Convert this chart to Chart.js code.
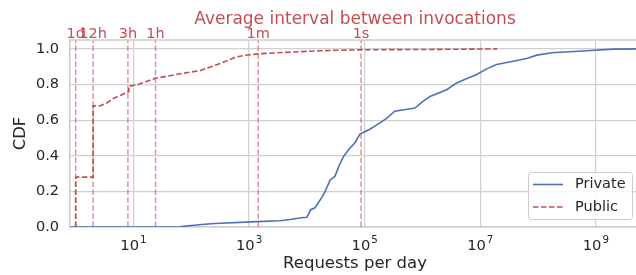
<!DOCTYPE html>
<html lang="en">
<head>
<meta charset="UTF-8">
<title>CDF of requests per day</title>
<style>
    html, body {
        margin: 0;
        padding: 0;
        background: #fff;
        overflow: hidden;
    }
    .wrap {
        width: 640px;
        height: 275px;
    }
</style>
</head>
<body>
<div class="wrap"><canvas id="cdf" width="640" height="275"></canvas></div>
<script src="https://cdn.jsdelivr.net/npm/chart.js"></script>
<script>
// values (requests per day -> cumulative share)
const privateRate = [0.8, 68, 68, 151, 257, 1350, 3390, 5130, 8130, 10000, 11640, 13800, 18000, 20560,
    25100, 30600, 36300, 42700, 52000, 67900, 82800, 100000, 123000, 162000, 240000, 331000, 741000,
    1.02e6, 1.35e6, 2.63e6, 3.89e6, 5.75e6, 8.71e6, 1.29e7, 1.91e7, 3.72e7, 6.31e7, 9.55e7,
    1.74e8, 6.92e8, 2.0e9, 5.8e9];
const privateCdf = [0, 0, 0.003, 0.014, 0.02, 0.03, 0.035, 0.042, 0.052, 0.055, 0.097, 0.108, 0.165, 0.197,
    0.263, 0.285, 0.347, 0.394, 0.432, 0.473, 0.522, 0.535, 0.549, 0.573, 0.61, 0.65, 0.668,
    0.705, 0.733, 0.771, 0.809, 0.833, 0.856, 0.888, 0.912, 0.931, 0.946, 0.965,
    0.978, 0.99, 0.999, 1.0];

const publicRate = [1, 1, 2, 2, 2.6, 3.4, 4.5, 6.3, 8.3, 8.3, 12, 24, 63, 141, 316, 617, 1000, 1480,
    4000, 17000, 87000, 1.35e6, 1.95e7];
const publicCdf = [0, 0.28, 0.28, 0.68, 0.68, 0.695, 0.722, 0.743, 0.76, 0.79, 0.80, 0.835, 0.86, 0.878,
    0.918, 0.956, 0.967, 0.973, 0.98, 0.99, 0.995, 0.997, 1.0];

// average interval markers (1 per day, 2 per day, ...)
const intervalLabels = ['1d', '12h', '3h', '1h', '1m', '1s'];
const intervalRates = [1, 2, 8, 24, 1440, 86400];

const xTickValues = [1e1, 1e3, 1e5, 1e7, 1e9];
const xTickExponents = ['1', '3', '5', '7', '9'];
const yTickValues = [0, 0.2, 0.4, 0.6, 0.8, 1.0];

const FONT = 'DejaVu Sans';
const TEXT = '#262626';
const RED = '#c44e52';
const BLUE = '#4c72b0';
const GRID = '#d0d0d0';

const toPoints = (xs, ys) => xs.map((v, i) => ({x: v, y: ys[i]}));

// guide lines, top labels, title, top spine, x tick labels and legend
const extras = {
    id: 'extras',
    beforeDatasetsDraw(chart) {
        const {ctx, chartArea: a, scales: {x}} = chart;
        ctx.save();
        ctx.strokeStyle = 'rgba(196, 78, 82, 0.6)';
        ctx.lineWidth = 1.5;
        ctx.setLineDash([5.5, 2.5]);
        intervalRates.forEach(r => {
            const px = x.getPixelForValue(r);
            ctx.beginPath();
            ctx.moveTo(px, a.bottom);
            ctx.lineTo(px, a.top);
            ctx.stroke();
        });
        ctx.restore();
    },
    afterDraw(chart) {
        const {ctx, chartArea: a, scales: {x}} = chart;
        ctx.save();
        // top spine
        ctx.strokeStyle = '#cccccc';
        ctx.lineWidth = 1.3;
        ctx.beginPath();
        ctx.moveTo(a.left, a.top);
        ctx.lineTo(a.right, a.top);
        ctx.stroke();

        // interval labels
        ctx.fillStyle = RED;
        ctx.textAlign = 'center';
        ctx.textBaseline = 'alphabetic';
        ctx.font = '14.5px "' + FONT + '"';
        intervalRates.forEach((r, i) => {
            ctx.fillText(intervalLabels[i], x.getPixelForValue(r), 38.3);
        });

        // title centred on the axes
        ctx.font = '17px "' + FONT + '"';
        ctx.fillText('Average interval between invocations', (a.left + a.right) / 2, 23.5);

        // x tick labels as 10 with a raised exponent
        ctx.fillStyle = TEXT;
        ctx.textAlign = 'left';
        const baseFont = '14.7px "' + FONT + '"';
        const supFont = '10.3px "' + FONT + '"';
        xTickValues.forEach((v, i) => {
            ctx.font = baseFont;
            const w1 = ctx.measureText('10').width;
            ctx.font = supFont;
            const w2 = ctx.measureText(xTickExponents[i]).width;
            const left = x.getPixelForValue(v) - (w1 + w2 + 1) / 2;
            ctx.font = baseFont;
            ctx.fillText('10', left, 249.7);
            ctx.font = supFont;
            ctx.fillText(xTickExponents[i], left + w1 + 1, 243);
        });

        // legend
        const bx = 528.5, by = 172.5, bw = 104, bh = 47;
        ctx.fillStyle = 'rgba(255,255,255,0.8)';
        ctx.strokeStyle = '#cccccc';
        ctx.lineWidth = 1;
        ctx.beginPath();
        ctx.roundRect(bx, by, bw, bh, 3);
        ctx.fill();
        ctx.stroke();
        ctx.font = '14.5px "' + FONT + '"';
        ctx.textBaseline = 'middle';
        chart.data.datasets.forEach((ds, i) => {
            const ly = 184.5 + i * 22.5;
            ctx.strokeStyle = ds.borderColor;
            ctx.lineWidth = ds.borderWidth;
            ctx.setLineDash(ds.borderDash || []);
            ctx.beginPath();
            ctx.moveTo(533, ly);
            ctx.lineTo(563, ly);
            ctx.stroke();
            ctx.fillStyle = TEXT;
            ctx.fillText(ds.label, 575, ly);
        });
        ctx.restore();
    }
};

new Chart(document.getElementById('cdf'), {
    type: 'line',
    data: {
        datasets: [
            {
                label: 'Private',
                data: toPoints(privateRate, privateCdf),
                borderColor: BLUE,
                borderWidth: 1.6,
                pointRadius: 0,
                tension: 0
            },
            {
                label: 'Public',
                data: toPoints(publicRate, publicCdf),
                borderColor: RED,
                borderWidth: 1.6,
                borderDash: [5.5, 2.5],
                pointRadius: 0,
                tension: 0
            }
        ]
    },
    options: {
        responsive: false,
        animation: false,
        devicePixelRatio: 1,
        layout: {padding: {top: 40, left: 0, right: 0, bottom: 0}},
        plugins: {
            legend: {display: false},
            title: {display: false},
            tooltip: {enabled: false}
        },
        scales: {
            x: {
                type: 'logarithmic',
                min: 0.797,
                max: 5.8e9,
                afterBuildTicks: s => { s.ticks = xTickValues.map(v => ({value: v})); },
                afterFit: s => { s.height = 48; },
                ticks: {display: false},
                grid: {color: GRID, lineWidth: 1.2, drawTicks: false},
                border: {color: '#cccccc', width: 1.6},
                title: {
                    display: true,
                    text: 'Requests per day',
                    color: TEXT,
                    font: {family: FONT, size: 16.5},
                    padding: {top: 0, bottom: 1}
                }
            },
            y: {
                min: 0,
                max: 1.05,
                afterBuildTicks: s => { s.ticks = yTickValues.map(v => ({value: v})); },
                afterFit: s => { s.width = 70; },
                ticks: {
                    color: TEXT,
                    padding: 11,
                    font: {family: FONT, size: 14.5},
                    callback: v => v.toFixed(1)
                },
                grid: {color: GRID, lineWidth: 1.2, drawTicks: false},
                border: {color: '#cccccc', width: 1.6},
                title: {
                    display: true,
                    text: 'CDF',
                    color: TEXT,
                    font: {family: FONT, size: 16.5},
                    padding: {top: 11, bottom: 0}
                }
            }
        }
    },
    plugins: [extras]
});
</script>
</body>
</html>
